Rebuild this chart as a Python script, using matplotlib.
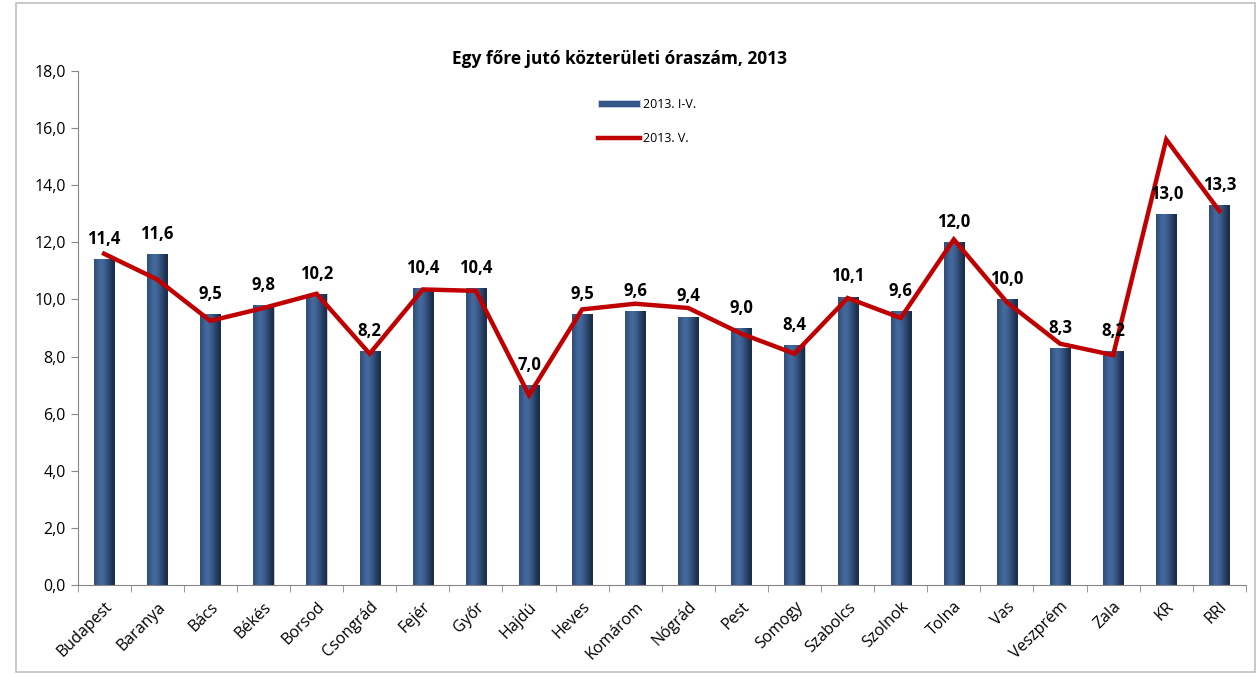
import numpy as np
import matplotlib
matplotlib.use("Agg")
import matplotlib.pyplot as plt
from matplotlib.patches import Rectangle
from matplotlib.ticker import FuncFormatter, FixedLocator

plt.rcParams['font.family'] = ['Open Sans', 'DejaVu Sans']

megyek = ['Budapest', 'Baranya', 'Bács', 'Békés', 'Borsod', 'Csongrád', 'Fejér', 'Győr',
          'Hajdú', 'Heves', 'Komárom', 'Nógrád', 'Pest', 'Somogy', 'Szabolcs', 'Szolnok',
          'Tolna', 'Vas', 'Veszprém', 'Zala', 'KR', 'RRI']
ertek_i_v = [11.4, 11.6, 9.5, 9.8, 10.2, 8.2, 10.4, 10.4, 7.0, 9.5, 9.6, 9.4, 9.0, 8.4,
             10.1, 9.6, 12.0, 10.0, 8.3, 8.2, 13.0, 13.3]
ertek_v = [11.6, 10.7, 9.25, 9.7, 10.2, 8.1, 10.35, 10.3, 6.65, 9.65, 9.85, 9.7, 8.8, 8.1,
           10.05, 9.35, 12.1, 9.9, 8.45, 8.05, 15.6, 13.1]

fig = plt.figure(figsize=(12.59, 6.76), dpi=100)
# outer chart frame
fig.patches.append(Rectangle((0.013, 0.006), 0.984, 0.99, transform=fig.transFigure,
                             fill=False, edgecolor='#bfbfbf', linewidth=1.2))
ax = fig.add_axes([0.0616, 0.1346, 0.928, 0.7604])

x = np.arange(len(megyek))
bars = ax.bar(x, ertek_i_v, width=0.38, color='#34578a', edgecolor='#c8d2e0',
              linewidth=0.6, label='2013. I-V.', zorder=2)

# horizontal shading inside each bar
grad = np.array([[0.55, 0.75, 0.9, 0.85, 0.7, 0.5, 0.3, 0.12]])
cmap = matplotlib.colors.LinearSegmentedColormap.from_list('b', ['#13243d', '#4a72aa'])
for b in bars:
    im = ax.imshow(grad, cmap=cmap, vmin=0, vmax=1, aspect='auto', interpolation='bicubic',
                   extent=[b.get_x(), b.get_x() + b.get_width(), 0, b.get_height()], zorder=2.5)
    im.set_clip_path(b)

line, = ax.plot(x, ertek_v, color='#c00000', linewidth=3.2, label='2013. V.', zorder=3,
                solid_joinstyle='miter')

for xi, v in zip(x, ertek_i_v):
    ax.annotate(f'{v:.1f}'.replace('.', ','), (xi, v), xytext=(0, 8),
                textcoords='offset points', ha='center', va='bottom',
                fontsize=12, fontweight='bold', zorder=4)

ax.set_xlim(-0.5, len(megyek) - 0.5)
ax.set_ylim(0, 18)
ax.set_yticks(np.arange(0, 18.1, 2))
ax.yaxis.set_major_formatter(FuncFormatter(lambda v, p: f'{v:.1f}'.replace('.', ',')))
ax.set_xticks(x)
ax.set_xticklabels(megyek, rotation=45, ha='right', rotation_mode='anchor', fontsize=11.5)
ax.tick_params(axis='x', which='major', length=0, pad=10)
ax.xaxis.set_minor_locator(FixedLocator(np.arange(-0.5, len(megyek), 1)))
ax.tick_params(axis='x', which='minor', length=5, color='#868686')
ax.tick_params(axis='y', length=5, color='#868686', labelsize=11.5)

for s in ['top', 'right']:
    ax.spines[s].set_visible(False)
for s in ['left', 'bottom']:
    ax.spines[s].set_color('#868686')

fig.text(0.492, 0.912, 'Egy főre jutó közterületi óraszám, 2013', ha='center',
         va='center', fontsize=12.5, fontweight='bold')

ax.legend(handles=[bars, line], loc='upper left', bbox_to_anchor=(0.466, 0.872),
          bbox_transform=fig.transFigure, frameon=False, fontsize=9, handlelength=3.4,
          handleheight=0.5, labelspacing=1.7, handletextpad=0.2)

fig.savefig('out.png', dpi=100)
